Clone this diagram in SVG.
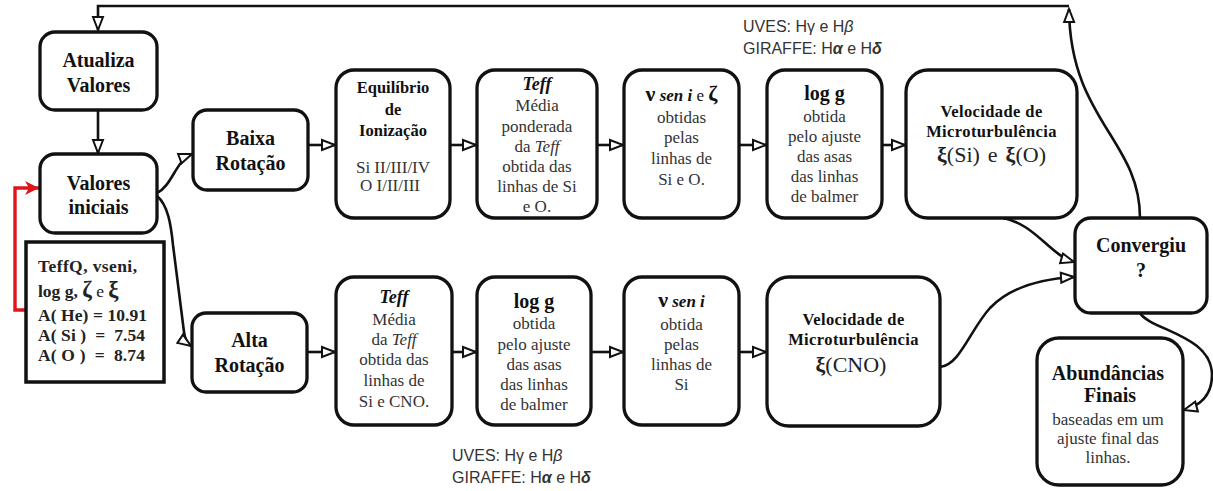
<svg xmlns="http://www.w3.org/2000/svg" width="1213" height="491" viewBox="0 0 1213 491">
<style>
.box{fill:#fff;stroke:#111;stroke-width:3.3}
.t{font-family:"Liberation Serif","Times New Roman",serif;text-anchor:middle}
.b{font-weight:bold;fill:#111}
.h{font-size:20px}
.s{font-size:16.5px}
.r{font-size:17px;fill:#333}
.lbl{font-family:"Liberation Sans",Arial,sans-serif;font-size:16px;fill:#333}
.c{fill:none;stroke:#111;stroke-width:2.6}
.pre{white-space:pre}
</style>
<defs>
<marker id="oa" markerUnits="userSpaceOnUse" markerWidth="18" markerHeight="16" refX="13" refY="5" orient="auto" viewBox="-2 -3 18 16">
<path d="M0,0 L13,5 L0,10 Z" fill="#fff" stroke="#111" stroke-width="2"/>
</marker>
<marker id="ra" markerUnits="userSpaceOnUse" markerWidth="18" markerHeight="18" refX="14" refY="7" orient="auto" viewBox="0 0 18 18">
<path d="M0,0 L14,7 L0,14 L4,7 Z" fill="#e0151a"/>
</marker>
</defs>

<g id="connectors">
<path class="c" d="M1069,6 H98 V30" marker-end="url(#oa)"/>
<path class="c" d="M1140,218 C1140,140 1070,120 1069,9" marker-end="url(#oa)"/>
<path class="c" d="M98,110 V153" marker-end="url(#oa)"/>
<path class="c" d="M157,193 C172,186 176,160 192,154" marker-end="url(#oa)"/>
<path class="c" d="M157,196 C168,205 171,225 173,245 L184,332 C185,340 188,344 191,346" marker-end="url(#oa)"/>
<path class="c" d="M308,145 H335" marker-end="url(#oa)"/>
<path class="c" d="M450,145 H476" marker-end="url(#oa)"/>
<path class="c" d="M597,145 H623" marker-end="url(#oa)"/>
<path class="c" d="M739,145 H766" marker-end="url(#oa)"/>
<path class="c" d="M882,145 H905" marker-end="url(#oa)"/>
<path class="c" d="M307,352 H335" marker-end="url(#oa)"/>
<path class="c" d="M452,352 H476" marker-end="url(#oa)"/>
<path class="c" d="M591,352 H623" marker-end="url(#oa)"/>
<path class="c" d="M739,352 H766" marker-end="url(#oa)"/>
<path class="c" d="M1003,218 C1035,224 1050,255 1074,262" marker-end="url(#oa)"/>
<path class="c" d="M940,367 C960,365 970,330 990,308 C1010,287 1040,279 1074,277" marker-end="url(#oa)"/>
<path class="c" d="M1140,313 C1150,330 1212,335 1212,375 C1212,400 1195,407 1184,410" marker-end="url(#oa)"/>
<path d="M26,310 H15 V188 H39" fill="none" stroke="#e0151a" stroke-width="3.4" marker-end="url(#ra)"/>
</g>

<g id="atualiza">
<rect class="box" x="40" y="32" width="117" height="78" rx="15"/>
<text class="t b h" x="98.5" y="67">Atualiza</text>
<text class="t b h" x="98.5" y="92">Valores</text>
</g>

<g id="valores-iniciais">
<rect class="box" x="40" y="154" width="117" height="79" rx="15"/>
<text class="t b h" x="98.5" y="190">Valores</text>
<text class="t b h" x="98.5" y="214">iniciais</text>
</g>

<g id="parametros">
<rect x="26" y="242" width="138" height="140" fill="#fff" stroke="#111" stroke-width="3.5"/>
<g font-family="'Liberation Serif','Times New Roman',serif" font-weight="bold" font-size="17.5" fill="#222">
<text x="38" y="272" textLength="99" lengthAdjust="spacing">TeffQ, vseni,</text>
<text x="38" y="297">log g, <tspan font-size="23">ζ</tspan> <tspan font-weight="normal">e</tspan> <tspan font-size="23">ξ</tspan></text>
<text class="pre" x="38" y="321" textLength="109" lengthAdjust="spacing">A( He) = 10.91</text>
<text class="pre" x="38" y="341" textLength="107" lengthAdjust="spacing">A( Si )  =  7.54</text>
<text class="pre" x="38" y="361" textLength="107" lengthAdjust="spacing">A( O )  =  8.74</text>
</g>
</g>

<g id="baixa-rotacao">
<rect class="box" x="193" y="110" width="115" height="80" rx="14"/>
<text class="t b h" x="250.5" y="145">Baixa</text>
<text class="t b h" x="250.5" y="170">Rotação</text>
</g>

<g id="equilibrio">
<rect class="box" x="336" y="70" width="114" height="148" rx="18"/>
<text class="t b s" x="393" y="93">Equilíbrio</text>
<text class="t b s" x="393" y="115">de</text>
<text class="t b s" x="393" y="136">Ionização</text>
<text class="t r" x="393" y="173" font-size="16">Si II/III/IV</text>
<text class="t r" x="390" y="191" font-size="16">O I/II/III</text>
</g>

<g id="teff-baixa">
<rect class="box" x="477" y="70" width="120" height="148" rx="18"/>
<text class="t b" x="537" y="90" font-size="18" font-style="italic">Teff</text>
<text class="t r" x="537" y="111">Média</text>
<text class="t r" x="537" y="132">ponderada</text>
<text class="t r" x="537" y="152">da <tspan font-style="italic">Teff</tspan></text>
<text class="t r" x="537" y="172">obtida das</text>
<text class="t r" x="537" y="192">linhas de Si</text>
<text class="t r" x="537" y="212">e O.</text>
</g>

<g id="vsini-baixa">
<rect class="box" x="624" y="70" width="115" height="148" rx="18"/>
<text class="t b" x="681.5" y="101" font-size="17"><tspan font-size="22">ν</tspan><tspan font-style="italic"> sen i</tspan> <tspan font-weight="normal">e</tspan> <tspan font-size="22">ζ</tspan></text>
<text class="t r" x="681.5" y="123">obtidas</text>
<text class="t r" x="681.5" y="143">pelas</text>
<text class="t r" x="681.5" y="164">linhas de</text>
<text class="t r" x="681.5" y="185">Si e O.</text>
</g>

<g id="logg-baixa">
<rect class="box" x="767" y="70" width="115" height="148" rx="18"/>
<text class="t b h" x="824.5" y="100">log g</text>
<text class="t r" x="824.5" y="122">obtida</text>
<text class="t r" x="824.5" y="142">pelo ajuste</text>
<text class="t r" x="824.5" y="162">das asas</text>
<text class="t r" x="824.5" y="182">das linhas</text>
<text class="t r" x="824.5" y="202">de balmer</text>
</g>

<g id="microturb-baixa">
<rect class="box" x="906" y="70" width="171" height="148" rx="22"/>
<text class="t b s" x="991.5" y="117" letter-spacing="0.4">Velocidade de</text>
<text class="t b s" x="991.5" y="137" letter-spacing="0.4">Microturbulência</text>
<text class="t" x="991.5" y="162" font-size="22" fill="#222"><tspan font-weight="bold">ξ</tspan>(Si)<tspan dx="8">e</tspan><tspan dx="8" font-weight="bold">ξ</tspan>(O)</text>
</g>

<g id="convergiu">
<rect class="box" x="1075" y="218" width="132" height="95" rx="16"/>
<text class="t b h" x="1141" y="252">Convergiu</text>
<text class="t b h" x="1141" y="277">?</text>
</g>

<g id="abundancias">
<rect class="box" x="1037" y="338" width="146" height="147" rx="22"/>
<text class="t b h" x="1108" y="380">Abundâncias</text>
<text class="t b h" x="1110" y="402">Finais</text>
<text class="t r" x="1108" y="425" font-size="16">baseadas em um</text>
<text class="t r" x="1108" y="444" font-size="16">ajuste final das</text>
<text class="t r" x="1108" y="463" font-size="16">linhas.</text>
</g>

<g id="alta-rotacao">
<rect class="box" x="192" y="313" width="115" height="79" rx="14"/>
<text class="t b h" x="249.5" y="347">Alta</text>
<text class="t b h" x="249.5" y="372">Rotação</text>
</g>

<g id="teff-alta">
<rect class="box" x="336" y="277" width="116" height="148" rx="18"/>
<text class="t b" x="394" y="303" font-size="18" font-style="italic">Teff</text>
<text class="t r" x="394" y="325">Média</text>
<text class="t r" x="394" y="345">da <tspan font-style="italic">Teff</tspan></text>
<text class="t r" x="394" y="365">obtida das</text>
<text class="t r" x="394" y="386">linhas de</text>
<text class="t r" x="394" y="407">Si e CNO.</text>
</g>

<g id="logg-alta">
<rect class="box" x="477" y="277" width="114" height="148" rx="18"/>
<text class="t b h" x="534" y="308">log g</text>
<text class="t r" x="534" y="329">obtida</text>
<text class="t r" x="534" y="350">pelo ajuste</text>
<text class="t r" x="534" y="370">das asas</text>
<text class="t r" x="534" y="390">das linhas</text>
<text class="t r" x="534" y="410">de balmer</text>
</g>

<g id="vsini-alta">
<rect class="box" x="624" y="277" width="115" height="148" rx="18"/>
<text class="t b" x="681.5" y="307" font-size="17"><tspan font-size="22">ν</tspan><tspan font-style="italic"> sen i</tspan></text>
<text class="t r" x="681.5" y="330">obtida</text>
<text class="t r" x="681.5" y="350">pelas</text>
<text class="t r" x="681.5" y="370">linhas de</text>
<text class="t r" x="681.5" y="390">Si</text>
</g>

<g id="microturb-alta">
<rect class="box" x="767" y="277" width="173" height="149" rx="22"/>
<text class="t b s" x="853.5" y="325" letter-spacing="0.4">Velocidade de</text>
<text class="t b s" x="853.5" y="345" letter-spacing="0.4">Microturbulência</text>
<text class="t" x="851" y="372" font-size="22" fill="#222"><tspan font-weight="bold">ξ</tspan>(CNO)</text>
</g>

<g id="label-top">
<text class="lbl" x="743" y="32">UVES: Hγ e H<tspan font-style="italic">β</tspan></text>
<text class="lbl" x="743" y="54">GIRAFFE: H<tspan font-style="italic" font-weight="bold">α</tspan> e H<tspan font-style="italic" font-weight="bold">δ</tspan></text>
</g>
<g id="label-bottom">
<text class="lbl" x="452" y="461">UVES: Hγ e H<tspan font-style="italic">β</tspan></text>
<text class="lbl" x="452" y="483">GIRAFFE: H<tspan font-style="italic" font-weight="bold">α</tspan> e H<tspan font-style="italic" font-weight="bold">δ</tspan></text>
</g>
</svg>
